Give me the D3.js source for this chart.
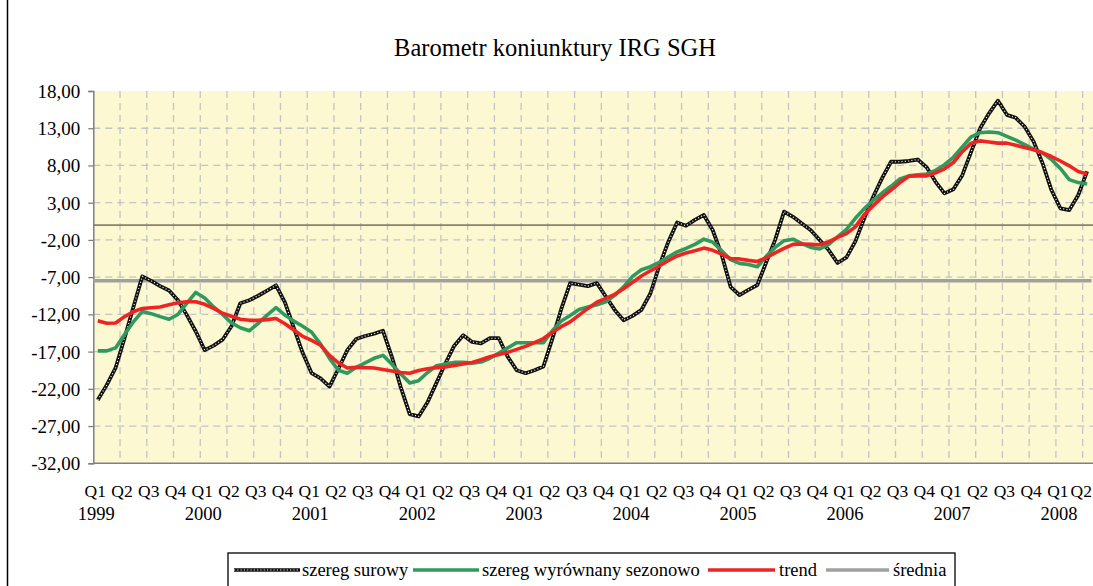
<!DOCTYPE html>
<html>
<head>
<meta charset="utf-8">
<script src="https://cdn.jsdelivr.net/npm/d3@7/dist/d3.min.js"></script>
<style>
  html, body { margin: 0; padding: 0; background: #ffffff; }
  svg { display: block; }
  text { font-family: "Liberation Serif", "Times New Roman", serif; fill: #000; }
</style>
</head>
<body>
<svg id="chart" width="1093" height="586"></svg>
<script>
// ---- data (monthly, Jan 1999 – Apr 2008) ----
const startYear = 1999;
const rawSeries = [
  -23.5, -21.5, -19.2, -15.2, -11.0, -6.9, -7.5, -8.2, -8.8, -10.1, -12.1, -14.3,
  -16.8, -16.2, -15.4, -13.6, -10.5, -10.1, -9.5, -8.8, -8.1, -10.4, -13.8, -17.2,
  -19.9, -20.6, -21.7, -19.3, -16.8, -15.3, -14.9, -14.6, -14.2, -17.7, -21.8, -25.4,
  -25.7, -23.8, -21.2, -18.6, -16.2, -14.8, -15.7, -15.9, -15.2, -15.2, -17.7, -19.5,
  -19.9, -19.5, -19.0, -15.3, -11.3, -7.8, -8.0, -8.2, -7.8, -9.6, -11.4, -12.8,
  -12.2, -11.4, -9.2, -5.5, -2.3, 0.35, -0.1, 0.7, 1.35, -0.7, -4.0, -8.3,
  -9.4, -8.7, -8.05, -5.0, -2.0, 1.8, 1.1, 0.2, -0.7, -2.0, -3.35, -5.1,
  -4.35, -2.2, 0.9, 3.8, 6.3, 8.5, 8.5, 8.6, 8.8, 7.75, 5.8, 4.25,
  4.8, 6.7, 9.85, 13.0, 15.0, 16.7, 14.8, 14.4, 13.2, 11.2, 8.3, 4.7,
  2.25, 2.0, 4.0, 7.2
];
const seasAdjSeries = [
  -16.9, -16.9, -16.5, -14.7, -13.0, -11.6, -11.9, -12.3, -12.65, -12.0, -10.5, -9.05,
  -9.8, -11.0, -12.0, -13.15, -13.8, -14.2, -13.2, -12.1, -11.1, -12.1, -12.9, -13.6,
  -14.4, -16.0, -17.9, -19.5, -19.9, -19.1, -18.5, -17.9, -17.5, -18.7, -20.0, -21.2,
  -20.9, -19.8, -18.9, -18.65, -18.45, -18.45, -18.55, -18.4, -17.9, -17.2, -16.5, -15.8,
  -15.8, -15.8, -15.8, -14.2, -12.9, -12.15, -11.35, -11.0, -10.7, -10.3, -9.45, -8.3,
  -6.9, -6.0, -5.6, -5.0, -4.3, -3.6, -3.15, -2.6, -1.9, -2.3, -3.45, -4.65,
  -5.15, -5.3, -5.6, -4.2, -3.0, -2.1, -1.9, -2.5, -3.0, -3.2, -2.6, -1.6,
  -0.6, 0.9, 2.2, 3.3, 4.3, 5.2, 6.2, 6.6, 6.75, 6.85, 7.35, 8.1,
  9.1, 10.5, 11.85, 12.4, 12.5, 12.4, 11.9, 11.4, 10.8, 10.2, 9.7, 8.8,
  7.6, 6.1, 5.7, 5.5
];
const trendSeries = [
  -12.85, -13.2, -13.15, -12.3, -11.65, -11.2, -11.1, -11.0, -10.7, -10.45, -10.3, -10.3,
  -10.65, -11.2, -11.85, -12.25, -12.65, -12.8, -12.8, -12.7, -12.55, -13.25, -14.1, -14.95,
  -15.5, -16.15, -17.5, -18.5, -19.2, -19.1, -19.15, -19.2, -19.4, -19.6, -19.8, -19.9,
  -19.55, -19.3, -19.15, -19.05, -18.85, -18.65, -18.45, -18.1, -17.7, -17.4, -17.1, -16.7,
  -16.3, -15.8, -15.25, -14.4, -13.65, -13.0, -12.1, -11.2, -10.35, -9.85, -9.3, -8.55,
  -7.7, -6.85, -6.15, -5.5, -4.8, -4.15, -3.75, -3.45, -3.1, -3.4, -3.9, -4.5,
  -4.55, -4.75, -4.9, -4.4, -3.75, -3.15, -2.6, -2.55, -2.6, -2.65, -2.25, -1.65,
  -1.15, -0.25, 1.4, 2.6, 3.75, 4.7, 5.7, 6.55, 6.6, 6.6, 7.0, 7.55,
  8.4, 9.85, 11.0, 11.3, 11.15, 11.0, 11.0, 10.7, 10.4, 10.1, 9.7, 9.2,
  8.6, 7.95, 7.2, 6.85
];
const meanValue = -7.5;
const yTicks = [18, 13, 8, 3, -2, -7, -12, -17, -22, -27, -32];
const quarterLabels = ["Q1", "Q2", "Q3", "Q4"];
const yearLabels = ["1999", "2000", "2001", "2002", "2003", "2004", "2005", "2006", "2007", "2008"];
const legendLabels = ["szereg surowy", "szereg wyrównany sezonowo", "trend", "średnia"];
const titleText = "Barometr koniunktury IRG SGH";

// ---- layout ----
const svg = d3.select("#chart");
const plotLeft = 93.3, plotTop = 91, plotBottom = 463.3;
const monthW = 8.913;
const nQuarters = 38;
const x = d3.scaleLinear().domain([0, 112]).range([plotLeft, plotLeft + 112 * monthW]);
const y = d3.scaleLinear().domain([-32, 18]).range([plotBottom, plotTop]);

const fmt = v => v.toFixed(2).replace(".", ",");

// outer frame (left edge visible)
svg.append("line").attr("x1", 7.5).attr("x2", 7.5).attr("y1", 0).attr("y2", 586)
  .attr("stroke", "#000").attr("stroke-width", 1.5);

// title
svg.append("text").attr("x", 555).attr("y", 56).attr("text-anchor", "middle")
  .style("font-size", "24.5px").text(titleText);

// plot background
svg.append("rect").attr("x", plotLeft).attr("y", plotTop)
  .attr("width", 1093 - plotLeft + 10).attr("height", plotBottom - plotTop)
  .attr("fill", "#FCF8D2");

// horizontal gridlines
svg.append("g").selectAll("line").data(yTicks.filter(v => v !== -32 && v !== 18)).join("line")
  .attr("x1", plotLeft).attr("x2", 1100)
  .attr("y1", d => y(d)).attr("y2", d => y(d))
  .attr("stroke", "#C4C4C4").attr("stroke-width", 1.3).attr("stroke-dasharray", "7,5");

// vertical gridlines (quarters)
const qIdx = d3.range(1, nQuarters);
svg.append("g").selectAll("line").data(qIdx).join("line")
  .attr("x1", d => x(d * 3)).attr("x2", d => x(d * 3))
  .attr("y1", plotTop).attr("y2", plotBottom)
  .attr("stroke", "#C4C4C4").attr("stroke-width", 1.3).attr("stroke-dasharray", "7,5");

// zero line
svg.append("line").attr("x1", plotLeft).attr("x2", 1100)
  .attr("y1", y(0)).attr("y2", y(0))
  .attr("stroke", "#8C826A").attr("stroke-width", 1.8);

// y axis
const yAxis = d3.axisLeft(y).tickValues(yTicks).tickFormat(fmt).tickSize(5).tickPadding(8);
const gy = svg.append("g").attr("transform", `translate(${plotLeft},0)`).call(yAxis);
gy.select(".domain").attr("stroke", "#808080").attr("stroke-width", 1.5);
gy.selectAll(".tick line").attr("stroke", "#808080").attr("stroke-width", 1.3);
gy.selectAll(".tick text").style("font-size", "19px")
  .style("font-family", '"Liberation Serif", serif').attr("fill", "#000").attr("dy", "0.34em");

// x axis line
svg.append("line").attr("x1", plotLeft).attr("x2", 1100)
  .attr("y1", plotBottom).attr("y2", plotBottom)
  .attr("stroke", "#808080").attr("stroke-width", 1.5);

// quarter labels
const qData = d3.range(nQuarters).map(k => ({k, label: quarterLabels[k % 4]}));
svg.append("g").selectAll("text").data(qData).join("text")
  .attr("x", d => d.k === nQuarters - 1 ? 1092 : x(d.k * 3) + 2)
  .attr("y", 497)
  .attr("text-anchor", d => d.k === nQuarters - 1 ? "end" : "middle")
  .style("font-size", "17.5px").text(d => d.label);

// year labels
svg.append("g").selectAll("text").data(yearLabels).join("text")
  .attr("x", (d, i) => x(i * 12) + 3).attr("y", 520).attr("text-anchor", "middle")
  .style("font-size", "18.5px").text(d => d);

// lines
const line = d3.line().x((d, i) => x(i + 0.5)).y(d => y(d));

// mean
svg.append("line").attr("x1", plotLeft).attr("x2", x(112))
  .attr("y1", y(meanValue)).attr("y2", y(meanValue))
  .attr("stroke", "#A0A0A0").attr("stroke-width", 3.5);

// raw (black with white dots)
svg.append("path").attr("d", line(rawSeries)).attr("fill", "none")
  .attr("stroke", "#111").attr("stroke-width", 3.8).attr("stroke-linejoin", "round");
svg.append("path").attr("d", line(rawSeries)).attr("fill", "none")
  .attr("stroke", "#fff").attr("stroke-width", 1.1).attr("stroke-dasharray", "1.1,2.2");

// seasonally adjusted
svg.append("path").attr("d", line(seasAdjSeries)).attr("fill", "none")
  .attr("stroke", "#2F9A5E").attr("stroke-width", 3.6).attr("stroke-linejoin", "round");

// trend
svg.append("path").attr("d", line(trendSeries)).attr("fill", "none")
  .attr("stroke", "#EE2424").attr("stroke-width", 3.6).attr("stroke-linejoin", "round");

// legend
const lg = svg.append("g");
lg.append("rect").attr("x", 228).attr("y", 553).attr("width", 727).attr("height", 60)
  .attr("fill", "#fff").attr("stroke", "#000").attr("stroke-width", 1.3);
const legendItems = [
  {x1: 234, x2: 300, tx: 302, color: "#111", raw: true},
  {x1: 413, x2: 479, tx: 482, color: "#2F9A5E"},
  {x1: 708, x2: 775, tx: 779, color: "#EE2424"},
  {x1: 826, x2: 889, tx: 893, color: "#A0A0A0"}
];
legendItems.forEach((it, i) => {
  lg.append("line").attr("x1", it.x1).attr("x2", it.x2).attr("y1", 570).attr("y2", 570)
    .attr("stroke", it.color).attr("stroke-width", 3.6);
  if (it.raw) {
    lg.append("line").attr("x1", it.x1).attr("x2", it.x2).attr("y1", 570).attr("y2", 570)
      .attr("stroke", "#fff").attr("stroke-width", 1.1).attr("stroke-dasharray", "1.1,2.2");
  }
  lg.append("text").attr("x", it.tx).attr("y", 576).style("font-size", "18.5px").text(legendLabels[i]);
});
</script>
</body>
</html>
